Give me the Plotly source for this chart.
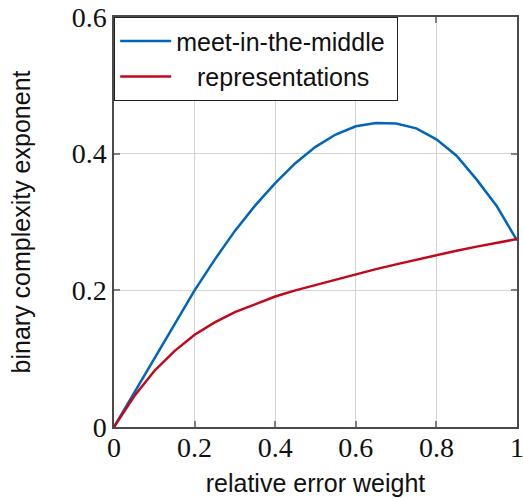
import plotly.graph_objects as go

x_vals = [0, 0.05, 0.1, 0.15, 0.2, 0.25, 0.3, 0.35, 0.4, 0.45, 0.5,
          0.55, 0.6, 0.65, 0.7, 0.75, 0.8, 0.85, 0.9, 0.95, 1.0]
mitm = [0, 0.05, 0.1, 0.15, 0.2, 0.245, 0.287, 0.324, 0.357, 0.386, 0.41,
        0.428, 0.44, 0.445, 0.444, 0.437, 0.421, 0.397, 0.362, 0.323, 0.273]
reps = [0, 0.045, 0.082, 0.111, 0.135, 0.153, 0.168, 0.18, 0.191, 0.2, 0.208,
        0.216, 0.224, 0.231, 0.238, 0.245, 0.252, 0.258, 0.264, 0.269, 0.275]
tick_vals_x = [0, 0.2, 0.4, 0.6, 0.8, 1]
tick_text_x = ["0", "0.2", "0.4", "0.6", "0.8", "1"]
tick_vals_y = [0, 0.2, 0.4, 0.6]
tick_text_y = ["0", "0.2", "0.4", "0.6"]

fig = go.Figure()
fig.add_trace(go.Scatter(x=x_vals, y=mitm, mode="lines", name="meet-in-the-middle\u00a0",
                         line=dict(color="#0065BD", width=2.5)))
fig.add_trace(go.Scatter(x=x_vals, y=reps, mode="lines",
                         name="\u00a0\u00a0\u00a0representations",
                         line=dict(color="#C4071B", width=2.5)))

axis_common = dict(showline=True, mirror="ticks", linecolor="#4a4a4a", linewidth=1.5,
                   ticks="inside", ticklen=6, tickcolor="#7f7f7f", tickwidth=1.5,
                   showgrid=True, gridcolor="#d4d4d4", gridwidth=1.2, zeroline=False,
                   automargin=False, ticklabeloverflow="allow",
                   tickfont=dict(family="Liberation Serif, DejaVu Serif, serif", size=28, color="#111"))

fig.update_xaxes(range=[0, 1], tickvals=tick_vals_x, ticktext=tick_text_x,
                 ticklabelstandoff=-5,
                 title=dict(text="relative error weight", standoff=12,
                            font=dict(family="Liberation Sans, Arial, sans-serif", size=25, color="#111")),
                 **axis_common)
fig.update_yaxes(range=[0, 0.6], tickvals=tick_vals_y, ticktext=tick_text_y,
                 title=dict(text="binary complexity exponent", standoff=34,
                            font=dict(family="Liberation Sans, Arial, sans-serif", size=25, color="#111")),
                 **axis_common)

fig.update_layout(
    width=523, height=499,
    margin=dict(l=114, r=6, t=17, b=72),
    plot_bgcolor="white", paper_bgcolor="white",
    showlegend=True,
    legend=dict(x=0, y=1, xanchor="left", yanchor="top",
                bgcolor="white", bordercolor="#222", borderwidth=1.2,
                font=dict(family="Liberation Sans, Arial, sans-serif", size=25, color="#111"),
                itemwidth=51, tracegroupgap=0),
)

fig.write_html("out.html", config={"displayModeBar": False},
               post_script="document.body.style.margin='0';document.body.style.overflow='hidden';")
